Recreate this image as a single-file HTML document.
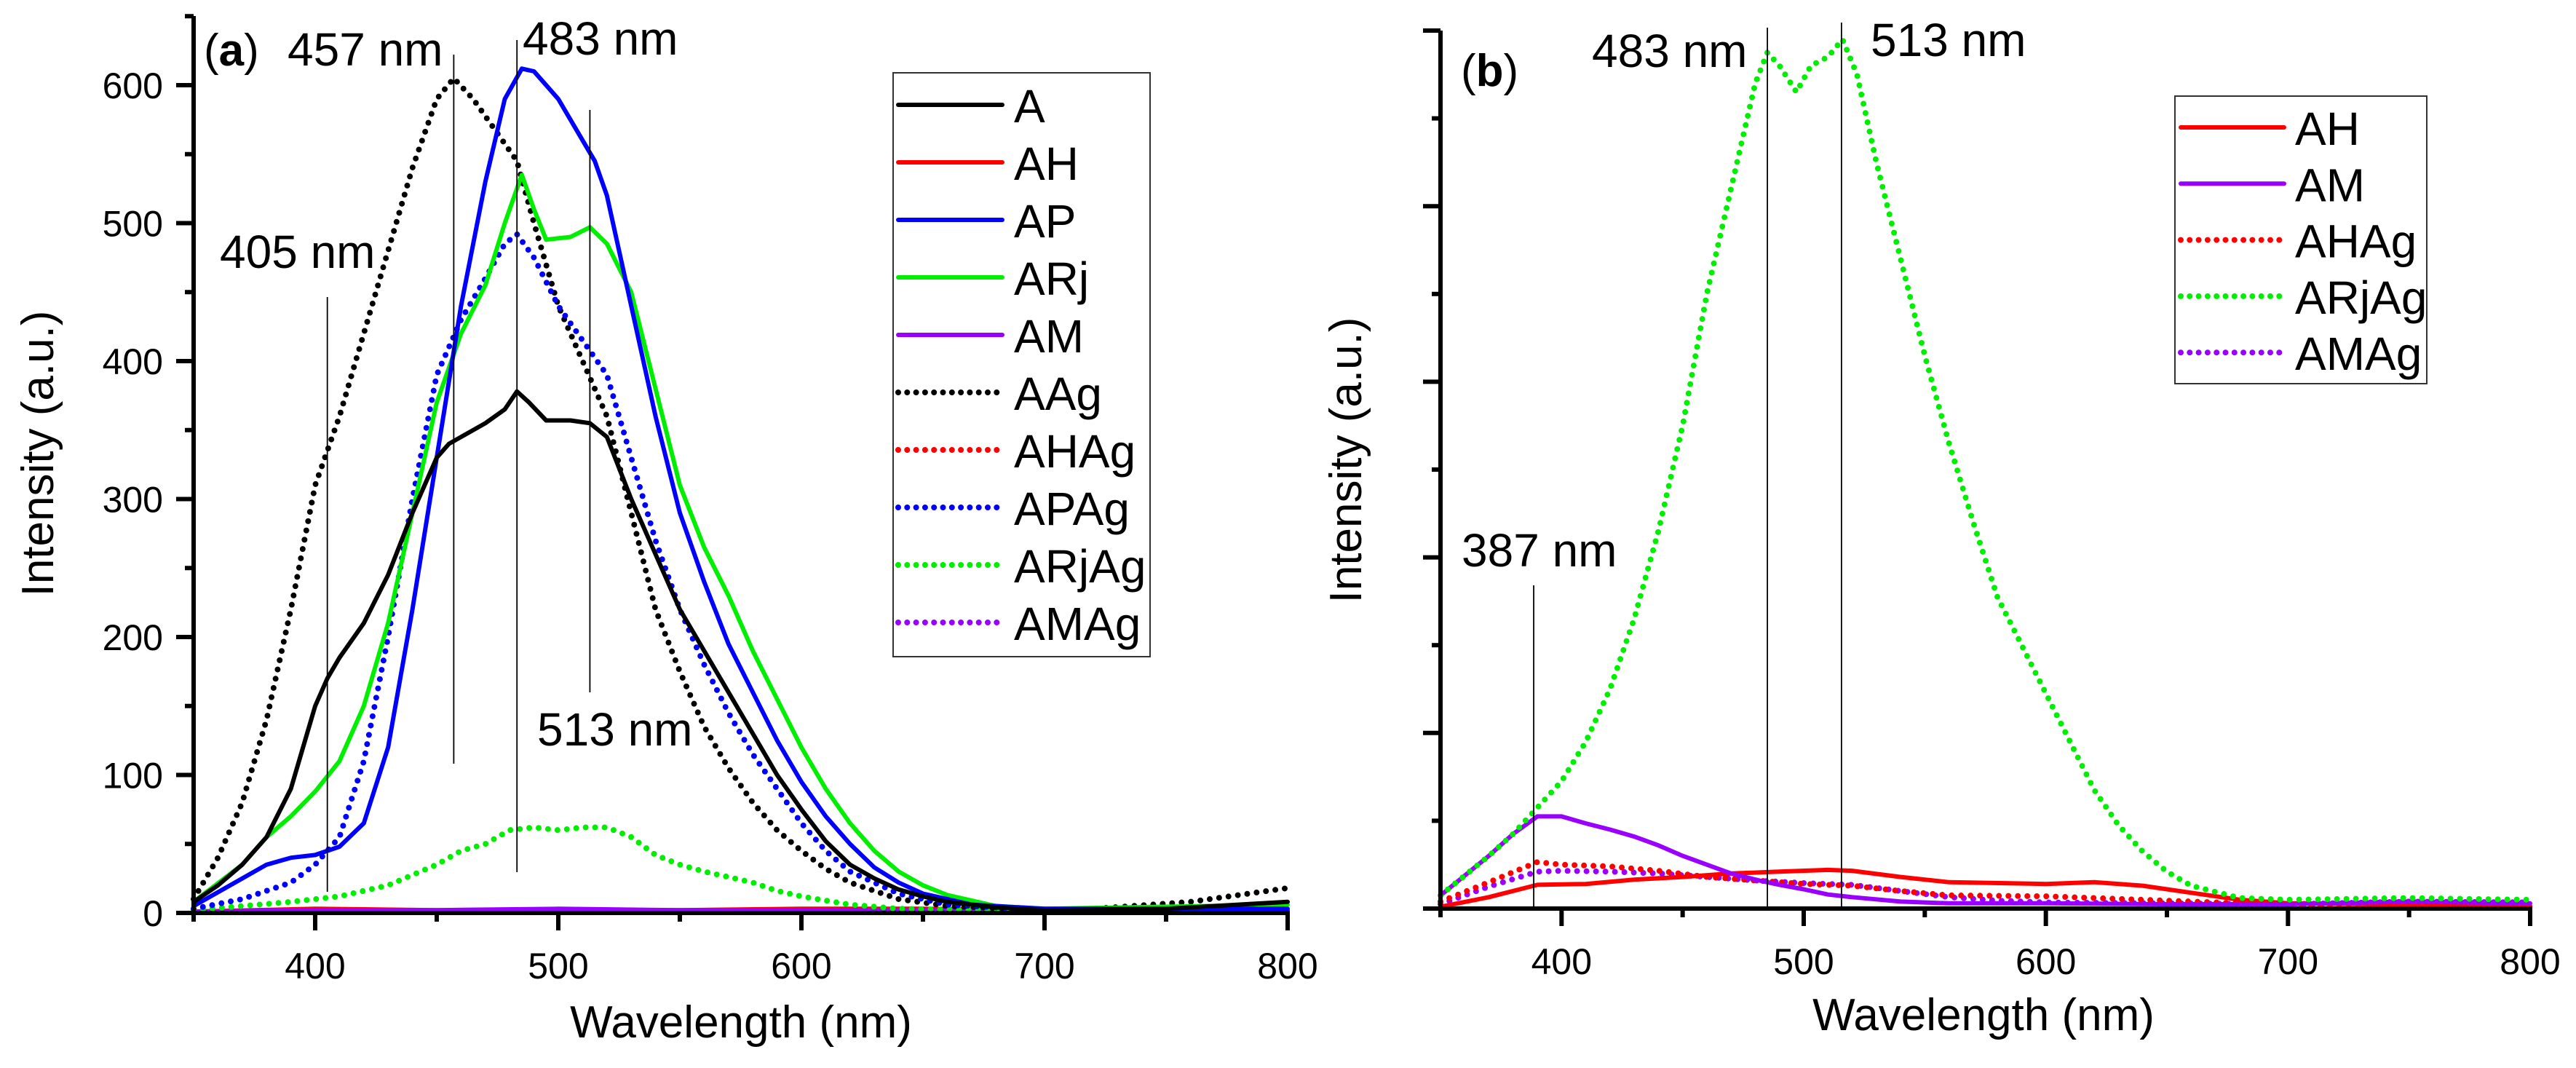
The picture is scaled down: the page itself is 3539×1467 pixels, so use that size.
<!DOCTYPE html>
<html><head><meta charset="utf-8"><style>
html,body{margin:0;padding:0;background:#fff}
svg{display:block}
text{font-family:"Liberation Sans",Arial,sans-serif;fill:#000}
</style></head><body>
<svg id="chart" width="3539" height="1467" viewBox="0 0 3539 1467" xmlns="http://www.w3.org/2000/svg"></svg>
<script>
// ---------- Panel (a) data ----------
const aA_x=[350,360,370,380,390,395,400,405,410,420,430,440,450,455,460,470,478,483,488,495,505,513,520,530,540,550,560,570,580,590,600,610,620,630,640,650,660,680,700,750,800];
const aA_y=[8,20,35,55,90,120,150,170,185,210,245,290,330,340,345,355,365,378,370,357,357,355,345,300,260,220,190,160,130,100,75,52,35,25,17,12,8,4,2,3,8];
const aAP_x=[350,370,380,390,400,410,420,430,440,450,460,470,478,485,490,500,510,515,520,530,540,550,560,570,580,590,600,610,620,630,640,650,670,700,800];
const aAP_y=[5,25,35,40,42,48,65,120,220,330,440,530,590,612,610,590,560,545,520,440,360,290,240,195,160,125,95,70,50,33,22,14,6,3,3];
const aARj_x=[350,370,380,390,400,410,420,430,440,450,460,470,478,485,490,495,505,513,520,530,540,550,560,570,580,590,600,610,620,630,640,650,660,680,700,800];
const aARj_y=[8,35,55,70,88,110,150,210,290,370,420,455,500,535,510,488,490,497,485,450,380,310,265,230,190,155,120,90,65,45,30,20,13,5,3,6];
const aAAg_x=[350,360,370,380,390,400,410,420,430,440,450,457,465,475,483,490,500,510,515,520,530,540,550,560,570,580,590,600,610,620,640,660,700,720,760,800];
const aAAg_y=[10,40,80,140,220,310,360,420,480,540,590,605,590,565,545,500,440,400,380,360,290,220,175,135,105,80,60,45,32,22,10,5,2,3,8,18];
const aAPAg_x=[350,370,390,400,410,420,430,440,450,460,470,478,483,490,500,510,520,530,540,550,560,570,580,590,600,610,620,640,660,700,800];
const aAPAg_y=[3,10,22,35,55,110,200,300,390,430,460,485,492,475,440,415,390,330,270,220,180,145,115,90,65,45,30,14,6,2,2];
const aARjAg_x=[350,370,390,410,430,450,460,470,480,490,500,510,520,530,540,550,560,570,580,590,600,620,640,700,800];
const aARjAg_y=[2,5,8,12,20,35,45,50,60,62,60,62,62,55,42,35,30,26,22,16,12,6,3,1,1];
const aAH_x=[350,400,450,500,550,600,650,700,750,800];
const aAH_y=[1,3,2,2,2,3,3,2,2,2];
const aAM_x=[350,400,450,500,550,600,650,700,750,800];
const aAM_y=[1,2,2,3,2,2,2,2,2,2];
const aAHAg_y=[1,2,1,1,1,2,1,1,1,1];
const aAMAg_y=[1,1,1,2,1,1,1,1,1,1];
const aYTicks=[0,100,200,300,400,500,600];
const xTicks=[400,500,600,700,800];

// ---------- Panel (b) data ----------
const bARjAg_x=[350,370,380,390,400,410,420,430,440,450,460,470,475,480,485,490,497,503,510,516,522,530,540,550,560,570,580,590,600,610,620,630,640,650,660,680,700,750,800];
const bARjAg_y=[0.15,0.6,0.85,1.15,1.45,1.9,2.5,3.3,4.3,5.5,7.0,8.2,8.8,9.4,9.75,9.6,9.3,9.6,9.7,9.9,9.5,8.5,7.4,6.3,5.3,4.4,3.55,3.0,2.45,1.9,1.35,0.95,0.65,0.42,0.26,0.12,0.1,0.12,0.1];
const bAM_x=[350,370,380,390,400,410,420,430,440,450,460,470,480,490,500,510,520,540,560,600,650,700,750,800];
const bAM_y=[0.15,0.6,0.85,1.05,1.05,0.97,0.9,0.82,0.72,0.6,0.5,0.4,0.33,0.27,0.22,0.16,0.13,0.08,0.06,0.06,0.05,0.05,0.08,0.06];
const bAH_x=[350,370,390,410,430,450,470,490,510,520,540,560,600,620,640,660,680,700,800];
const bAH_y=[0.02,0.13,0.27,0.28,0.33,0.36,0.4,0.42,0.44,0.43,0.36,0.3,0.28,0.3,0.26,0.18,0.1,0.06,0.03];
const bAHAg_x=[350,370,390,400,420,440,460,480,500,520,540,560,600,640,700,800];
const bAHAg_y=[0.08,0.3,0.53,0.5,0.48,0.43,0.36,0.32,0.28,0.26,0.2,0.15,0.14,0.1,0.04,0.03];
const bAMAg_x=[350,370,390,400,420,440,460,480,500,520,540,560,580,600,700,750,800];
const bAMAg_y=[0.05,0.25,0.42,0.43,0.42,0.4,0.36,0.32,0.29,0.27,0.2,0.13,0.09,0.07,0.05,0.08,0.07];

const NS="http://www.w3.org/2000/svg";
const svg=document.getElementById('chart');
function mk(tag,attrs,parent){const e=document.createElementNS(NS,tag);for(const k in attrs)e.setAttribute(k,attrs[k]);(parent||svg).appendChild(e);return e;}
function txt(s,x,y,size,parent,anchor){const t=mk('text',{x:x,y:y,'font-size':size,'text-anchor':anchor||'start'},parent);t.textContent=s;return t;}

// axis functions
const axA={x0:266,x1:1769,y0:1254,ppu:1.895,top:22};
const axB={x0:1979,x1:3476,y0:1248,ppu:120.6,top:42};
function sx(ax,v){return ax.x0+(v-350)*(ax.x1-ax.x0)/450;}
function sy(ax,v){return ax.y0-v*ax.ppu;}

function series(ax,xs,ys,color,dotted,name,g){
  let d='';
  for(let i=0;i<xs.length;i++){d+=(i?'L':'M')+sx(ax,xs[i]).toFixed(1)+','+sy(ax,ys[i]).toFixed(1);}
  const p=mk('path',{d:d,fill:'none',stroke:color,'stroke-width':dotted?8:6,'stroke-linecap':'round','stroke-linejoin':'round'},g);
  if(dotted)p.setAttribute('stroke-dasharray','0 13');
  
  
}

function axes(ax,g,yMinorStep,yMax,labels){
  mk('line',{x1:ax.x0,y1:ax.top,x2:ax.x0,y2:ax.y0+2,stroke:'#000','stroke-width':6},g);
  mk('line',{x1:ax.x0-3,y1:ax.y0,x2:ax.x1+3,y2:ax.y0,stroke:'#000','stroke-width':6},g);
  for(let v=350;v<=800;v+=50){
    const major=(v%100===0);
    mk('line',{x1:sx(ax,v),y1:ax.y0,x2:sx(ax,v),y2:ax.y0+(major?24:12),stroke:'#000','stroke-width':6},g);
  }
  xTicks.forEach(v=>{const t=txt(String(v),sx(ax,v),ax.y0+90,50,g,'middle');
    });
  let k=0;
  for(let v=0;v<=yMax+1e-9;v+=yMinorStep){
    const major=(k%2===0);k++;
    mk('line',{x1:ax.x0-(major?24:12),y1:sy(ax,v),x2:ax.x0,y2:sy(ax,v),stroke:'#000','stroke-width':6},g);
  }
  if(labels){labels.forEach(v=>{const t=txt(String(v),ax.x0-42,sy(ax,v)+18,50,g,'end');
    });}
}

function vline(x,y1,y2,g){mk('line',{x1:x,y1:y1,x2:x,y2:y2,stroke:'#000','stroke-width':1.8},g);}

// ---------------- Panel a ----------------
const ga=mk('g',{});

series(axA,aAH_x,aAH_y,'#ff0000',false,'series-AH',ga);
series(axA,aAH_x,aAHAg_y,'#ff0000',true,'series-AHAg',ga);
series(axA,aAM_x,aAM_y,'#9900ff',false,'series-AM',ga);
series(axA,aAM_x,aAMAg_y,'#9900ff',true,'series-AMAg',ga);
series(axA,aARjAg_x,aARjAg_y,'#00ee00',true,'series-ARjAg',ga);
series(axA,aAAg_x,aAAg_y,'#000000',true,'series-AAg',ga);
series(axA,aAPAg_x,aAPAg_y,'#0000ff',true,'series-APAg',ga);
series(axA,aARj_x,aARj_y,'#00ee00',false,'series-ARj',ga);
series(axA,aAP_x,aAP_y,'#0000ff',false,'series-AP',ga);
series(axA,aA_x,aA_y,'#000000',false,'series-A',ga);
axes(axA,ga,50,650,aYTicks);
vline(sx(axA,405),408,1225,ga);vline(sx(axA,457),75,1049,ga);vline(sx(axA,483),55,1198,ga);vline(sx(axA,513),151,951,ga);
[['405 nm',302,368],['457 nm',395,90],['483 nm',718,75],['513 nm',738,1024]].forEach(a=>{const t=txt(a[0],a[1],a[2],64,ga);
  });
{const t=mk('text',{x:280,y:90,'font-size':62},ga);t.innerHTML='(<tspan font-weight="bold">a</tspan>)';
 }
{const t=txt('Wavelength (nm)',1018,1425,62,ga,'middle');}
{const t=txt('Intensity (a.u.)',0,0,62,ga,'middle');t.setAttribute('transform','translate(73,623) rotate(-90)');
 }

// legend a
const lgA=mk('g',{},ga);
mk('rect',{x:1227,y:100,width:353,height:802,fill:'#fff',stroke:'#333','stroke-width':2},lgA);
const legA=[['A','#000',false],['AH','#ff0000',false],['AP','#0000ff',false],['ARj','#00ee00',false],['AM','#9900ff',false],['AAg','#000',true],['AHAg','#ff0000',true],['APAg','#0000ff',true],['ARjAg','#00ee00',true],['AMAg','#9900ff',true]];
legA.forEach((e,i)=>{const y=144+i*79;
  const l=mk('line',{x1:1234,y1:y,x2:1377,y2:y,stroke:e[1],'stroke-width':e[2]?8:6,'stroke-linecap':'round'},lgA);
  if(e[2])l.setAttribute('stroke-dasharray','0 12.3');
  const t=txt(e[0],1393,y+24,64,lgA);});

// ---------------- Panel b ----------------
const gb=mk('g',{});

series(axB,bAMAg_x,bAMAg_y,'#9900ff',true,'series-AMAg-b',gb);
series(axB,bAHAg_x,bAHAg_y,'#ff0000',true,'series-AHAg-b',gb);
series(axB,bAH_x,bAH_y,'#ff0000',false,'series-AH-b',gb);
series(axB,bAM_x,bAM_y,'#9900ff',false,'series-AM-b',gb);
series(axB,bARjAg_x,bARjAg_y,'#00ee00',true,'series-ARjAg-b',gb);
axes(axB,gb,1,10,null);
vline(sx(axB,388.5),804,1248,gb);vline(sx(axB,485),38,1247,gb);vline(sx(axB,515.6),31,1247,gb);
[['483 nm',2187,92],['513 nm',2570,77],['387 nm',2008,778]].forEach(a=>{const t=txt(a[0],a[1],a[2],64,gb);
  });
{const t=mk('text',{x:2007,y:118,'font-size':62},gb);t.innerHTML='(<tspan font-weight="bold">b</tspan>)';
 }
{const t=txt('Wavelength (nm)',2725,1415,62,gb,'middle');}
{const t=txt('Intensity (a.u.)',0,0,62,gb,'middle');t.setAttribute('transform','translate(1870,632) rotate(-90)');
 }

const lgB=mk('g',{},gb);
mk('rect',{x:2988,y:132,width:346,height:395,fill:'#fff',stroke:'#333','stroke-width':2},lgB);
const legB=[['AH','#ff0000',false],['AM','#9900ff',false],['AHAg','#ff0000',true],['ARjAg','#00ee00',true],['AMAg','#9900ff',true]];
legB.forEach((e,i)=>{const y=175+i*77.3;
  const l=mk('line',{x1:2996,y1:y,x2:3138,y2:y,stroke:e[1],'stroke-width':e[2]?8:6,'stroke-linecap':'round'},lgB);
  if(e[2])l.setAttribute('stroke-dasharray','0 12.3');
  const t=txt(e[0],3153,y+24,64,lgB);});
</script>
</body></html>
